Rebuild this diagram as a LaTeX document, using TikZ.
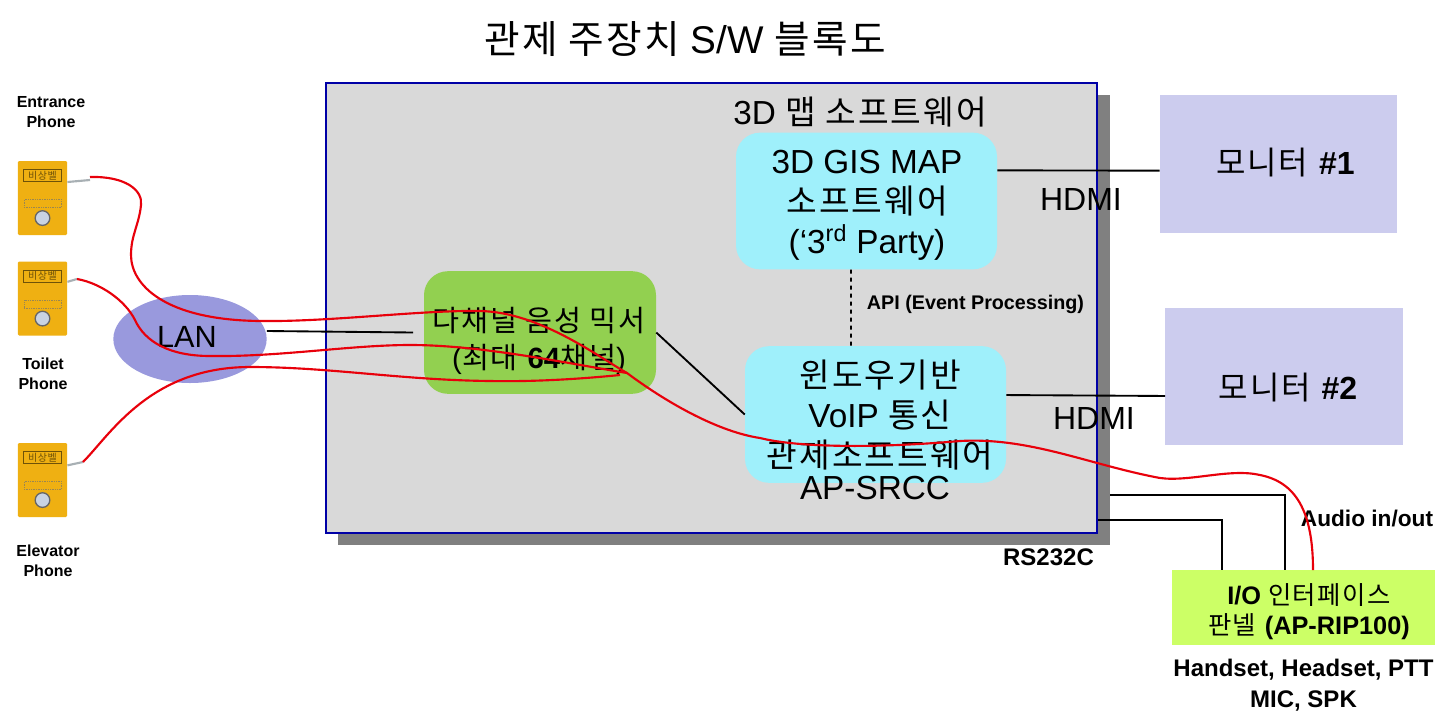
\documentclass[tikz,border=0pt]{standalone}
\usepackage{fontspec}
\usetikzlibrary{shapes.geometric}
\setmainfont{Liberation Sans}
\newfontfamily\korfont{Noto Sans CJK KR}[LetterSpace=6]
\newcommand{\kor}[1]{{\korfont #1}}
\lineskiplimit=-50pt
\definecolor{boxgray}{HTML}{D9D9D9}
\definecolor{shadowgray}{HTML}{808080}
\definecolor{borderblue}{HTML}{0000A6}
\definecolor{softcyan}{HTML}{9FF0FB}
\definecolor{mixgreen}{HTML}{92D050}
\definecolor{lanblue}{HTML}{9999DD}
\definecolor{monblue}{HTML}{CCCCEE}
\definecolor{iogreen}{HTML}{CCFF66}
\definecolor{phoneyellow}{HTML}{EFB012}
\definecolor{phonebrown}{HTML}{6E5208}
\definecolor{stubgray}{HTML}{A8B0B4}
\definecolor{btnblue}{HTML}{C9D3E2}
\definecolor{wirered}{HTML}{E8000B}
\tikzset{
  block/.style = {rectangle, inner sep = 0pt, align = center},
  softbox/.style = {block, rounded corners = 18pt, fill = softcyan,
    minimum width = 195.75pt, minimum height = 102.5pt},
  monbox/.style = {block, fill = monblue, minimum width = 178pt,
    minimum height = 103pt},
  biglabel/.style = {inner sep = 0pt, align = center, font = \fontsize{25}{30}\selectfont},
  boldlabel/.style = {inner sep = 0pt, align = center,
    font = \fontsize{17}{22}\selectfont\bfseries},
  phonelabel/.style = {inner sep = 0pt, align = center,
    font = \fontsize{12}{15}\selectfont\bfseries},
  phonebox/.style = {block, rounded corners = 1pt, fill = phoneyellow,
    minimum width = 37pt, minimum height = 55.5pt},
  line/.style = {black, line width = 1.4pt},
  wire/.style = {wirered, line width = 1.6pt},
  stub/.style = {stubgray, line width = 1.6pt},
}
\begin{document}
\begin{tikzpicture}[x = 0.75pt, y = -0.75pt]
  \useasboundingbox (0,0) rectangle (1456,722);
  \fill[white] (0,0) rectangle (1456,722);

  \node (title) [biglabel, font = \fontsize{29}{30}\selectfont] at (685,39) {\kor{관제 주장치} S/W \kor{블록도}};

  % main box with its shadow
  \node (boxshadow) [block, fill = shadowgray, minimum width = 579pt, minimum height = 337.5pt] at (724,320) {};
  \node (mainbox) [block, fill = boxgray, draw = borderblue, line width = 1.5pt, minimum width = 578pt, minimum height = 337pt] at (711.5,308) {};
  \node (maplabel) [biglabel] at (860,112) {3D \kor{맵 소프트웨어}};

  \node (gis) [softbox] at (866.5,201) {};
  \node (gislabel) [biglabel] at (867,205.5) {3D GIS MAP\\\kor{소프트웨어}\\(‘3\smash{\textsuperscript{rd}} Party)};
  \node (win) [softbox] at (875.5,414.5) {};
  \node (winlabel) [biglabel] at (880,415) {\kor{윈도우기반}\\VoIP \kor{통신}\\\kor{관제소프트웨어}};
  \node (srcclabel) [biglabel] at (875,488) {AP-SRCC};
  \node (mixer) [block, rounded corners = 18pt, fill = mixgreen, minimum width = 174pt, minimum height = 92pt] at (540,332.5) {};
  \node (mixerlabel) [biglabel, font = \fontsize{22}{28}\selectfont] at (539,341) {\kor{다채널 음성 믹서}\\(\kor{최대} \textbf{64}\kor{채널})};
  \node (lan) [ellipse, inner sep = 0pt, fill = lanblue, minimum width = 115pt, minimum height = 66pt] at (190,339) {};
  \node (lanlabel) [biglabel, font = \fontsize{23}{28}\selectfont] at (187,337) {LAN};

  \node (mon1) [monbox] at (1278.5,164) {};
  \node (mon2) [monbox] at (1284,376.5) {};
  \node (mon1label) [biglabel, font = \fontsize{24}{30}\selectfont] at (1285.5,163) {\kor{모니터} \textbf{\#1}};
  \node (mon2label) [biglabel, font = \fontsize{24}{30}\selectfont] at (1288,388) {\kor{모니터} \textbf{\#2}};
  \node (iopanel) [block, fill = iogreen, minimum width = 197pt, minimum height = 56pt] at (1303.5,607.5) {};
  \node (iolabel) [biglabel, font = \fontsize{19}{22.5}\selectfont] at (1309,612) {\textbf{I/O} \kor{인터페이스}\\\kor{판넬} \textbf{(AP-RIP100)}};

  % phones
  \foreach \name/\ypos in {phoneA/198, phoneB/298.5, phoneC/480} {
    \node (\name) [phonebox] at (42.5,\ypos) {};
    \node (\name label) [draw = phonebrown, line width = 0.6pt, inner sep = 0pt, minimum width = 29pt, minimum height = 9pt,
      font = \fontsize{7.5}{8}\selectfont, text = phonebrown] at ([yshift=-11pt]\name.north) {\kor{비상벨}};
    \node (\name note) [draw = phonebrown!70, densely dotted, line width = 0.3pt, inner sep = 0pt, minimum width = 28pt, minimum height = 6pt] at ([yshift=-32pt]\name.north) {};
    \node (\name btn) [circle, fill = btnblue, draw = black!60, line width = 1pt, inner sep = 0pt, minimum size = 11pt] at ([yshift=-43pt]\name.north) {};
  }
  \node (labelA) [phonelabel] at (51,112) {Entrance\\Phone};
  \node (labelB) [phonelabel] at (43,374) {Toilet\\Phone};
  \node (labelC) [phonelabel] at (48,561) {Elevator\\Phone};

  % cable labels
  \node (hdmiA) [biglabel, font = \fontsize{24}{28}\selectfont] at (1081,199) {HDMI};
  \node (hdmiB) [biglabel, font = \fontsize{24}{28}\selectfont] at (1094,418) {HDMI};
  \node (apilabel) [boldlabel, font = \fontsize{14.8}{20}\selectfont\bfseries] at (975.5,304) {API (Event Processing)};
  \node (audiolabel) [boldlabel] at (1367,519) {Audio in/out};
  \node (rslabel) [boldlabel, font = \fontsize{18}{22}\selectfont\bfseries] at (1048.5,557) {RS232C};
  \node (handsetlabel) [boldlabel, font = \fontsize{18}{23}\selectfont\bfseries] at (1303.5,685) {Handset, Headset, PTT\\MIC, SPK};

  % black connectors
  \draw[line] ([yshift=6pt]lan.east) -- ([xshift=-8pt]mixer.west);
  \draw[line] (mixer.east) -- (win.west);
  \draw[line] ([yshift=23pt]gis.east) -- ([yshift=-5pt]mon1.west);
  \draw[line] ([yshift=14.6pt]win.east) -- ([yshift=-14.6pt]mon2.west);
  \draw[line, dashed] ([xshift=-11.6pt]gis.south) -- ([xshift=-18.4pt]win.north);
  \draw[line] ([yshift=-131pt]boxshadow.east) -| ([xshift=-14pt]iopanel.north);
  \draw[line] ([yshift=-159pt]mainbox.east) -| ([xshift=-61pt]iopanel.north);

  % gray stubs and red audio wires
  \coordinate (wireA) at (90,177);
  \coordinate (wireB) at (77,279);
  \coordinate (wireC) at (83,462);
  \coordinate (mixpoint) at (627,373);
  \draw[stub] ([yshift=12pt]phoneA.east) -- (90,180);
  \draw[stub] ([yshift=12.5pt]phoneB.east) -- (wireB);
  \draw[stub] ([yshift=11pt]phoneC.east) -- (wireC);
  \draw[wire] (wireA) .. controls (125,176) and (143,190) .. (141,205)
    .. controls (139,225) and (131,235) .. (131,255)
    .. controls (131,285) and (165,320) .. (260,321)
    .. controls (330,322) and (420,310) .. (480,311)
    .. controls (540,312) and (600,358) .. (mixpoint)
    .. controls (670,405) and (720,432) .. (760,438)
    .. controls (800,448) and (880,448) .. (960,441)
    .. controls (1030,437) and (1090,465) .. (1160,478)
    .. controls (1190,482) and (1230,468) .. (1260,475)
    .. controls (1295,482) and (1313,510) .. (1313,570);
  \draw[wire] (wireB) .. controls (100,283) and (125,300) .. (135,320)
    .. controls (145,342) and (170,356) .. (210,356)
    .. controls (280,357) and (350,345) .. (410,345)
    .. controls (480,345) and (560,362) .. (mixpoint);
  \draw[wire] (wireC) .. controls (110,435) and (150,367) .. (250,367)
    .. controls (330,367) and (400,380) .. (490,381)
    .. controls (540,382) and (590,378) .. (620,375);
\end{tikzpicture}
\end{document}
